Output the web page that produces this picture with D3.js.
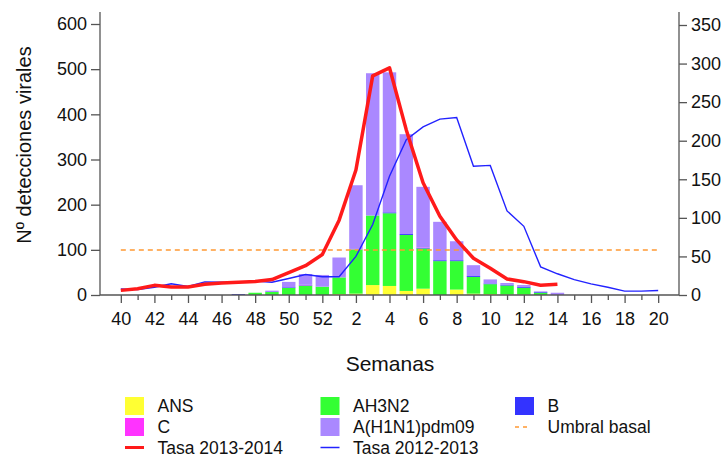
<!DOCTYPE html>
<html>
<head>
<meta charset="utf-8">
<script src="https://cdn.jsdelivr.net/npm/d3@7"></script>
<style>
  body { margin: 0; background: #fff; }
  svg text { font-family: Arial, "Liberation Sans", sans-serif; fill: #111; }
</style>
</head>
<body>
<div id="chart"></div>
<script>
// week labels (season 2013-2014)
var weeks = ["40","41","42","43","44","45","46","47","48","49","50","51","52",
  "1","2","3","4","5","6","7","8","9","10","11","12","13","14","15","16","17","18","19","20"];

// detections per virus type (left axis)
var ans   = [0,0,0,0,0,0,0,0,0,0,0,0,0, 2,3,22,20,9,14,0,12,3,2,1,1,0,0,0,0,0,0,0,0];
var ah3n2 = [0,0,0,0,0,0,0,0,5,6.6,15.5,20.5,18.4, 37,98,154,161,124,89,75,63,37,22,20,15,5,0,0,0,0,0,0,0];
var typeB = [0,0,0,0,0,0,0,2,0,0,1.5,1,0, 0,0,0,2,2,1.5,2,2,2,1.5,1.5,2,1.5,0,0,0,0,0,0,0];
var typeC = [0,0,0,0,0,0,0,0,0,0,0,1,0, 0,1,0,0,0,1,0,0,0,0,0,0,0,0,0,0,0,0,0,0];
var h1n1  = [0,0,0,0,0,0,0,0,0,3,12,24,26, 44,141,315,310,221,134,85,42,24,9,4,4,1.5,5,0,0,0,0,0,0];

// rates per 100.000 (right axis)
var tasa1314 = [6,8,12.5,10.5,10.5,14,15.5,16.5,17.5,20,29,38,52.5,
  97,162,284,294.5,214,145.6,102,71.4,47.6,34.6,20.8,17.3,12.6,14];
var tasa1213 = [8,7,10,14.5,11,17,16.6,16,18,16.6,21.4,26.5,23.6,
  23.6,50,91.3,154,201.4,218,228,230,167,168,109,89,36.5,27.5,20,14.5,10,5,5,5.8];
var umbral = 58.3;

var leftTicks = [0,100,200,300,400,500,600];
var rightTicks = [0,50,100,150,200,250,300,350];

var width = 725, height = 457;
var plot = { left: 100, right: 679, top: 12, bottom: 295 };

var svg = d3.select("#chart")
  .append("svg")
  .attr("width", width)
  .attr("height", height);

var x = d3.scalePoint()
  .domain(weeks)
  .range([plot.left, plot.right])
  .padding(1.24);

var yLeft = d3.scaleLinear().domain([0, 600]).range([plot.bottom, 24]);
var yRight = d3.scaleLinear().domain([0, 350]).range([plot.bottom, 25]);

var barWidth = x.step() * 0.8;

// stacked bars, bottom to top: ANS, AH3N2, B, C, A(H1N1)pdm09
var keys = ["ans", "ah3n2", "b", "c", "h1n1"];
var colors = { ans: "#ffff33", ah3n2: "#33ff33", b: "#3333ff", c: "#ff33ff", h1n1: "#aa88ff" };

var rows = weeks.map(function(w, i) {
  return { week: w, ans: ans[i], ah3n2: ah3n2[i], b: typeB[i], c: typeC[i], h1n1: h1n1[i] };
});
var series = d3.stack().keys(keys)(rows);

svg.append("g")
  .selectAll("g")
  .data(series)
  .enter()
  .append("g")
  .attr("fill", function(d) { return colors[d.key]; })
  .selectAll("rect")
  .data(function(d) { return d; })
  .enter()
  .filter(function(d) { return d[1] - d[0] > 0; })
  .append("rect")
  .attr("x", function(d) { return x(d.data.week) - barWidth / 2; })
  .attr("y", function(d) { return yLeft(d[1]); })
  .attr("width", barWidth)
  .attr("height", function(d) { return yLeft(d[0]) - yLeft(d[1]); });

// baseline threshold
svg.append("line")
  .attr("x1", x(weeks[0]))
  .attr("x2", x(weeks[weeks.length - 1]))
  .attr("y1", yRight(umbral))
  .attr("y2", yRight(umbral))
  .attr("stroke", "#ff9933")
  .attr("stroke-width", 1.5)
  .attr("stroke-dasharray", "5,4");

// rate lines
var line = d3.line()
  .x(function(d, i) { return x(weeks[i]); })
  .y(function(d) { return yRight(d); });

svg.append("path")
  .datum(tasa1213)
  .attr("d", line)
  .attr("fill", "none")
  .attr("stroke", "#2222ff")
  .attr("stroke-width", 1.4);

svg.append("path")
  .datum(tasa1314)
  .attr("d", line)
  .attr("fill", "none")
  .attr("stroke", "#ff1a1a")
  .attr("stroke-width", 3.5)
  .attr("stroke-linejoin", "round");

// axes
var axisColor = "#555";

var gl = svg.append("g")
  .attr("transform", "translate(" + plot.left + ",0)")
  .call(d3.axisLeft(yLeft).tickValues(leftTicks).tickSize(9).tickPadding(4));

var gr = svg.append("g")
  .attr("transform", "translate(" + plot.right + ",0)")
  .call(d3.axisRight(yRight).tickValues(rightTicks).tickSize(8).tickPadding(4));

var gx = svg.append("g")
  .attr("transform", "translate(0," + plot.bottom + ")")
  .call(d3.axisBottom(x).tickSize(8).tickPadding(9)
    .tickFormat(function(w) { return (+w % 2 === 0) ? w : ""; }));

gx.selectAll(".tick line")
  .attr("y2", function(w) { return (+w % 2 === 0) ? 8 : 5; });

[gl, gr, gx].forEach(function(g) {
  g.select(".domain").remove();
  g.selectAll(".tick line").attr("stroke", axisColor).attr("stroke-width", 1.3);
  g.selectAll(".tick text")
    .style("font-family", "Arial, 'Liberation Sans', sans-serif")
    .style("font-size", "18px")
    .attr("fill", "#111");
});

// axis lines drawn separately so they reach above the top tick
svg.append("line").attr("x1", plot.left).attr("x2", plot.left)
  .attr("y1", plot.top).attr("y2", plot.bottom)
  .attr("stroke", axisColor).attr("stroke-width", 1.3);
svg.append("line").attr("x1", plot.right).attr("x2", plot.right)
  .attr("y1", plot.top).attr("y2", plot.bottom)
  .attr("stroke", axisColor).attr("stroke-width", 1.3);
svg.append("line").attr("x1", plot.left).attr("x2", plot.right)
  .attr("y1", plot.bottom).attr("y2", plot.bottom)
  .attr("stroke", axisColor).attr("stroke-width", 1.3);

// axis titles
svg.append("text")
  .attr("transform", "translate(31,145) rotate(-90)")
  .attr("text-anchor", "middle")
  .style("font-size", "20px")
  .text("Nº detecciones virales");

svg.append("text")
  .attr("x", 390)
  .attr("y", 370.5)
  .attr("text-anchor", "middle")
  .style("font-size", "21px")
  .text("Semanas");

// legend
var legendItems = [
  { label: "ANS", type: "box", color: colors.ans, col: 0, row: 0 },
  { label: "AH3N2", type: "box", color: colors.ah3n2, col: 1, row: 0 },
  { label: "B", type: "box", color: colors.b, col: 2, row: 0 },
  { label: "C", type: "box", color: colors.c, col: 0, row: 1 },
  { label: "A(H1N1)pdm09", type: "box", color: colors.h1n1, col: 1, row: 1 },
  { label: "Umbral basal", type: "dash", color: "#ff9933", col: 2, row: 1 },
  { label: "Tasa 2013-2014", type: "line", color: "#ff1a1a", col: 0, row: 2 },
  { label: "Tasa 2012-2013", type: "line", color: "#2222ff", col: 1, row: 2 }
];
var colX = [125, 320.5, 515];
var rowY = [397, 418, 439];

var legend = svg.append("g")
  .selectAll("g")
  .data(legendItems)
  .enter()
  .append("g")
  .attr("transform", function(d) { return "translate(" + colX[d.col] + "," + rowY[d.row] + ")"; });

legend.each(function(d) {
  var g = d3.select(this);
  if (d.type === "box") {
    g.append("rect").attr("width", 19).attr("height", 18).attr("fill", d.color);
  } else if (d.type === "dash") {
    g.append("line").attr("x1", 0).attr("x2", 16).attr("y1", 9).attr("y2", 9)
      .attr("stroke", d.color).attr("stroke-width", 1.5).attr("stroke-dasharray", "4,4");
  } else {
    g.append("line").attr("x1", 0).attr("x2", 19).attr("y1", 8.5).attr("y2", 8.5)
      .attr("stroke", d.color).attr("stroke-width", d.color === "#ff1a1a" ? 3 : 1.5);
  }
  g.append("text")
    .attr("x", 32.5)
    .attr("y", 15.3)
    .style("font-size", "17.5px")
    .text(d.label);
});
</script>
</body>
</html>
